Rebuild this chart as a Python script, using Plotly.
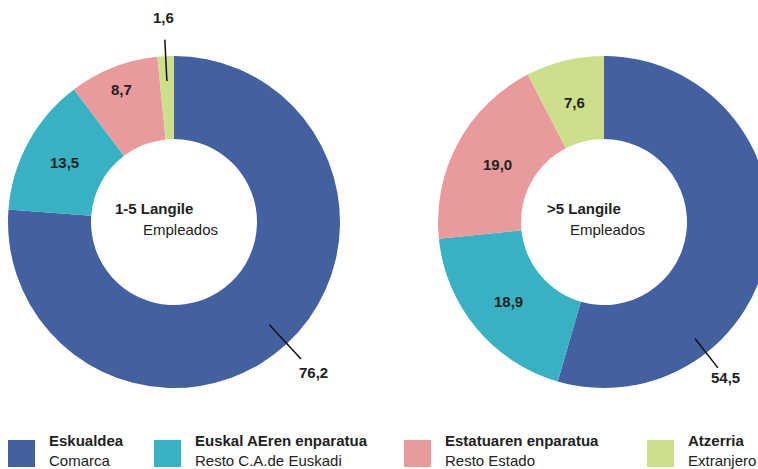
import math
import plotly.graph_objects as go

# ---------------- data ----------------
categories_eu = ["Eskualdea", "Euskal AEren enparatua", "Estatuaren enparatua", "Atzerria"]
categories_es = ["Comarca", "Resto C.A.de Euskadi", "Resto Estado", "Extranjero"]
values_1_5 = [76.2, 13.5, 8.7, 1.6]
values_gt5 = [54.5, 18.9, 19.0, 7.6]
title_1_5 = ("1-5 Langile", "Empleados")
title_gt5 = (">5 Langile", "Empleados")

# ---------------- style ----------------
colors = ["#4361A0", "#38B2C2", "#E89A9C", "#CCDF8A"]
W, H = 772, 469   # page window is 758 wide; the right donut runs past its edge as in the original
FONT = "Liberation Sans, Arial, sans-serif"
TXT = "#222222"


def px(x):
    return x / W


def py(y):
    return 1 - y / H


def fmt(v):
    return f"{v:.1f}".replace(".", ",")


fig = go.Figure()
annotations = []
shapes = []

charts = [
    dict(vals=values_1_5, title=title_1_5, box=(8, 56, 340, 388),
         outside=[True, False, False, True], ang=[None, None, None, None],
         lines=[(0.845, 1.125, 1.235), None, None, (0.85, 1.10, 1.235)],
         r_in=[None, 0.75, 0.86, None], toff=(-61, -33)),
    dict(vals=values_gt5, title=title_gt5, box=(438, 56, 770, 388),
         outside=[True, False, False, False], ang=[142, None, None, None],
         lines=[(0.89, 1.115, 1.185), None, None, None],
         r_in=[None, 0.75, 0.73, 0.74], toff=(-59, -36)),
]

HOLE = 0.5
for ch in charts:
    vals, title = ch["vals"], ch["title"]
    x0, y0, x1, y1 = ch["box"]
    fig.add_trace(go.Pie(
        values=vals,
        labels=categories_eu,
        sort=False,
        direction="clockwise",
        rotation=0,
        hole=HOLE,
        marker=dict(colors=colors, line=dict(width=0)),
        textinfo="none",
        hoverinfo="label+value",
        showlegend=False,
        domain=dict(x=[px(x0), px(x1)], y=[py(y1), py(y0)]),
    ))
    cx = (x0 + x1) / 2
    cy = (y0 + y1) / 2
    R = min(x1 - x0, y1 - y0) / 2
    total = sum(vals)
    cum = 0
    for i, v in enumerate(vals):
        mid = (cum + v / 2) / total * 360
        cum += v
        if ch["outside"][i]:
            ang = ch["ang"][i] if ch["ang"][i] is not None else mid
            a = math.radians(ang)
            s, c = math.sin(a), math.cos(a)
            f_in, f_out, f_txt = ch["lines"][i]
            shapes.append(dict(
                type="line", xref="paper", yref="paper",
                x0=px(cx + f_in * R * s), y0=py(cy - f_in * R * c),
                x1=px(cx + f_out * R * s), y1=py(cy - f_out * R * c),
                line=dict(color="#111111", width=1.5),
            ))
            annotations.append(dict(
                x=px(cx + f_txt * R * s), y=py(cy - f_txt * R * c), xref="paper", yref="paper",
                text=f"<b>{fmt(v)}</b>", showarrow=False,
                font=dict(family=FONT, size=15, color=TXT),
                xanchor="center", yanchor="middle",
            ))
        else:
            a = math.radians(mid)
            r_txt = ch["r_in"][i] * R
            annotations.append(dict(
                x=px(cx + r_txt * math.sin(a)), y=py(cy - r_txt * math.cos(a)),
                xref="paper", yref="paper",
                text=f"<b>{fmt(v)}</b>", showarrow=False,
                font=dict(family=FONT, size=15, color=TXT),
                xanchor="center", yanchor="middle",
            ))
    # centre text
    toff = ch["toff"]
    annotations.append(dict(
        x=px(cx + toff[0]), y=py(cy - 14), xref="paper", yref="paper",
        text=f"<b>{title[0]}</b>", showarrow=False,
        font=dict(family=FONT, size=15, color=TXT), xanchor="left", yanchor="middle",
    ))
    annotations.append(dict(
        x=px(cx + toff[1]), y=py(cy + 8), xref="paper", yref="paper",
        text=title[1], showarrow=False,
        font=dict(family=FONT, size=15, color=TXT), xanchor="left", yanchor="middle",
    ))

# ---------------- custom legend ----------------
leg_sq_x = [8, 154, 404, 647]
leg_txt_x = [47, 193, 443, 686]
for i, (eu, es) in enumerate(zip(categories_eu, categories_es)):
    shapes.append(dict(
        type="rect", xref="paper", yref="paper",
        x0=px(leg_sq_x[i]), x1=px(leg_sq_x[i] + 27), y0=py(467), y1=py(440),
        fillcolor=colors[i], line=dict(width=0),
    ))
    annotations.append(dict(
        x=px(leg_txt_x[i]), y=py(440), xref="paper", yref="paper",
        text=f"<b>{eu}</b>", showarrow=False,
        font=dict(family=FONT, size=15, color=TXT), xanchor="left", yanchor="middle",
    ))
    annotations.append(dict(
        x=px(leg_txt_x[i]), y=py(460), xref="paper", yref="paper",
        text=es, showarrow=False,
        font=dict(family=FONT, size=15, color=TXT), xanchor="left", yanchor="middle",
    ))

fig.update_layout(
    width=W, height=H,
    margin=dict(l=0, r=0, t=0, b=0),
    paper_bgcolor="white", plot_bgcolor="white",
    annotations=annotations, shapes=shapes,
    font=dict(family=FONT),
    showlegend=False,
)

fig.write_html(
    "out.html",
    config={"displayModeBar": False},
    post_script="document.body.style.margin='0';document.body.style.overflow='hidden';",
)
